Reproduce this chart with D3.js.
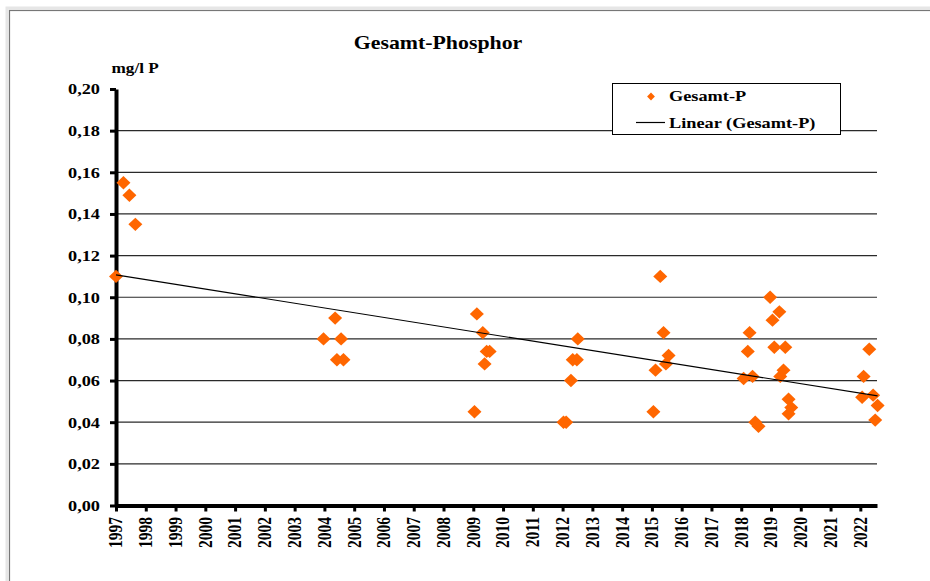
<!DOCTYPE html>
<html>
<head>
<meta charset="utf-8">
<script src="https://cdn.jsdelivr.net/npm/d3@7/dist/d3.min.js"></script>
<style>
  html, body { margin: 0; padding: 0; background: #fff; }
  svg { display: block; }
  text { font-family: "Liberation Serif", "Times New Roman", serif; font-weight: bold; fill: #000; }
</style>
</head>
<body>
<svg id="chart" width="930" height="581"></svg>
<script>
// ---- data ----
const chartTitle = "Gesamt-Phosphor";
const unitLabel = "mg/l P";
const seriesName = "Gesamt-P";
const trendName = "Linear (Gesamt-P)";
const yearTicks = [1997,1998,1999,2000,2001,2002,2003,2004,2005,2006,2007,2008,2009,2010,
                   2011,2012,2013,2014,2015,2016,2017,2018,2019,2020,2021,2022];
const valueTicks = [0,0.02,0.04,0.06,0.08,0.10,0.12,0.14,0.16,0.18,0.20];
const sampleYears = [
  1997.00,1997.25,1997.45,1997.65,
  2003.97,2004.36,2004.56,2004.42,2004.64,
  2009.04,2009.12,2009.32,2009.38,2009.45,2009.55,
  2012.03,2012.12,2012.28,2012.34,2012.48,2012.51,
  2015.05,2015.12,2015.28,2015.39,2015.47,2015.56,
  2018.08,2018.22,2018.28,2018.38,2018.47,2018.58,
  2018.97,2019.05,2019.11,2019.28,2019.31,2019.42,2019.48,2019.59,2019.59,2019.68,
  2022.06,2022.11,2022.30,2022.43,2022.50,2022.58
];
const sampleValues = [
  0.110,0.155,0.149,0.135,
  0.080,0.090,0.080,0.070,0.070,
  0.045,0.092,0.083,0.068,0.074,0.074,
  0.040,0.040,0.060,0.070,0.070,0.080,
  0.045,0.065,0.110,0.083,0.068,0.072,
  0.061,0.074,0.083,0.062,0.040,0.038,
  0.100,0.089,0.076,0.093,0.062,0.065,0.076,0.051,0.044,0.047,
  0.052,0.062,0.075,0.053,0.041,0.048
];

// ---- layout ----
const svg = d3.select("#chart");
const SX = 1.18; // horizontal text stretch seen in the reference
const plotL = 116, plotR = 877, plotT = 89, plotB = 505.5;
const x = d3.scaleLinear().domain([1997, 2022.56]).range([plotL, plotR]);
const y = d3.scaleLinear().domain([0, 0.2]).range([plotB, plotT]);
const fmt = v => d3.format(".2f")(v).replace(".", ",");

// outer frame with faint shadow
svg.append("rect").attr("x", 7).attr("y", 8).attr("width", 940).attr("height", 600)
  .attr("fill", "none").attr("stroke", "#e6e6e6").attr("stroke-width", 3);
svg.append("rect").attr("x", 9.5).attr("y", 10.5).attr("width", 940).attr("height", 600)
  .attr("fill", "#fff").attr("stroke", "#777").attr("stroke-width", 1.2);

// title
svg.append("text").attr("transform", `translate(438,48.5) scale(${SX},1)`)
  .attr("text-anchor", "middle").style("font-size", "18.5px").text(chartTitle);

// unit label
svg.append("text").attr("transform", `translate(111.5,72.5) scale(${SX + 0.05},1)`)
  .style("font-size", "14px").text(unitLabel);

// gridlines
svg.append("g").selectAll("line")
  .data(valueTicks.filter(v => v > 0 && v < 0.2))
  .join("line")
  .attr("x1", plotL).attr("x2", plotR)
  .attr("y1", d => y(d)).attr("y2", d => y(d))
  .attr("stroke", "#2a2a2a").attr("stroke-width", 1.2);

// axes (ticks + domain)
const yAxis = svg.append("g").attr("transform", `translate(${plotL},0)`)
  .call(d3.axisLeft(y).tickValues(valueTicks).tickSize(6).tickSizeOuter(0).tickFormat(""));
const xAxis = svg.append("g").attr("transform", `translate(0,${plotB})`)
  .call(d3.axisBottom(x).tickValues(yearTicks).tickSize(6).tickSizeOuter(0).tickFormat(""));
[yAxis, xAxis].forEach(g => {
  g.select(".domain").attr("stroke", "#000").attr("stroke-width", 4);
  g.selectAll(".tick line").attr("stroke", "#000").attr("stroke-width", 3);
});

// y tick labels
svg.append("g").selectAll("text").data(valueTicks).join("text")
  .attr("transform", d => `translate(100,${y(d)}) scale(${SX},1)`)
  .attr("text-anchor", "end").attr("dy", "0.35em")
  .style("font-size", "15.5px").text(fmt);

// x tick labels (rotated)
svg.append("g").selectAll("text").data(yearTicks).join("text")
  .attr("transform", d => `translate(${x(d)},517) scale(${SX},1) rotate(-90)`)
  .attr("text-anchor", "end").attr("dy", "0.35em")
  .style("font-size", "15.5px").text(d => d);

// markers
const pts = sampleYears.map((t, i) => ({ t, v: sampleValues[i] }));
const diamond = (w, h) => `M0,${-h}L${w},0L0,${h}L${-w},0Z`;
svg.append("g").selectAll("path").data(pts).join("path")
  .attr("transform", d => `translate(${x(d.t)},${y(d.v)})`)
  .attr("d", diamond(7, 6.7)).attr("fill", "#ff6600");

// linear trend (least squares, as Excel's trendline)
const mx = d3.mean(pts, d => d.t), my = d3.mean(pts, d => d.v);
const slope = d3.sum(pts, d => (d.t - mx) * (d.v - my)) / d3.sum(pts, d => (d.t - mx) ** 2);
const icpt = my - slope * mx;
const [t0, t1] = d3.extent(sampleYears);
svg.append("line")
  .attr("x1", x(t0)).attr("y1", y(icpt + slope * t0))
  .attr("x2", x(t1)).attr("y2", y(icpt + slope * t1))
  .attr("stroke", "#000").attr("stroke-width", 1.1);

// legend
const lg = svg.append("g");
lg.append("rect").attr("x", 612.5).attr("y", 83.5).attr("width", 228).attr("height", 51)
  .attr("fill", "#fff").attr("stroke", "#000").attr("stroke-width", 1);
lg.append("path").attr("transform", "translate(651,96.5)").attr("d", diamond(3.9, 3.9)).attr("fill", "#ff6600");
lg.append("text").attr("transform", `translate(669,101) scale(${SX + 0.04},1)`)
  .style("font-size", "15px").text(seriesName);
lg.append("line").attr("x1", 636).attr("x2", 665).attr("y1", 122.5).attr("y2", 122.5)
  .attr("stroke", "#000").attr("stroke-width", 1.2);
lg.append("text").attr("transform", `translate(669,127.5) scale(${SX + 0.04},1)`)
  .style("font-size", "15px").text(trendName);
</script>
</body>
</html>
